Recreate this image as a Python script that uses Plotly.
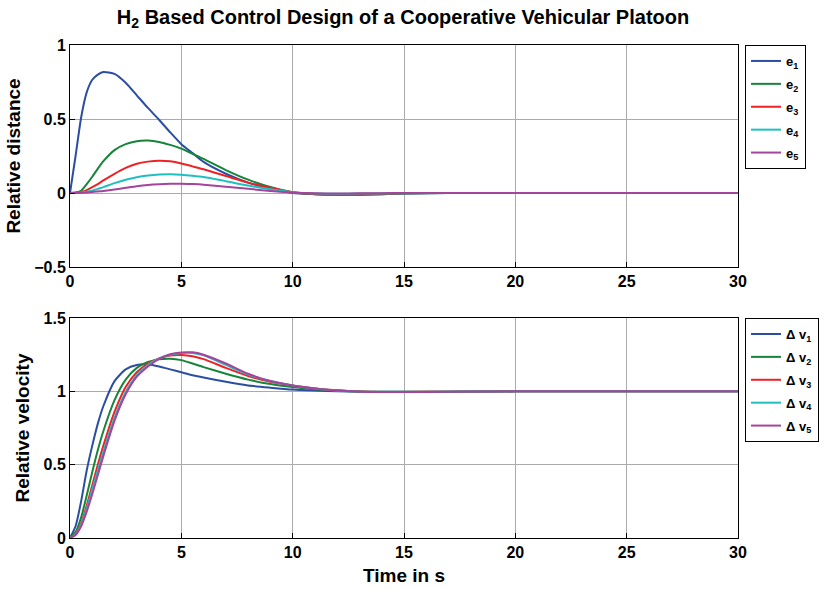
import plotly.graph_objects as go

t = [0, 0.25, 0.5, 0.75, 1, 1.25, 1.5, 2, 2.5, 3, 3.5, 4, 4.5, 5, 5.5, 6, 7, 8, 9, 10, 11, 12, 13, 14, 15, 17, 20, 25, 30]

e1 = [0, 0.25, 0.51, 0.68, 0.765, 0.80, 0.818, 0.805, 0.745, 0.66, 0.575, 0.495, 0.41, 0.33, 0.27, 0.21, 0.13, 0.07, 0.03, 0.0, -0.008, -0.012, -0.012, -0.008, -0.004, 0, 0, 0, 0]
e2 = [0, 0.004, 0.015, 0.06, 0.11, 0.165, 0.215, 0.29, 0.33, 0.35, 0.354, 0.345, 0.325, 0.30, 0.265, 0.23, 0.155, 0.09, 0.04, 0.005, -0.008, -0.012, -0.011, -0.008, -0.004, 0, 0, 0, 0]
e3 = [0, 0.001, 0.006, 0.02, 0.04, 0.06, 0.085, 0.13, 0.17, 0.198, 0.212, 0.218, 0.214, 0.2, 0.18, 0.16, 0.115, 0.07, 0.035, 0.005, -0.006, -0.008, -0.007, -0.005, -0.002, 0, 0, 0, 0]
e4 = [0, 0, 0.003, 0.008, 0.016, 0.028, 0.04, 0.067, 0.09, 0.107, 0.118, 0.125, 0.127, 0.124, 0.117, 0.108, 0.08, 0.05, 0.025, 0.005, -0.004, -0.005, -0.004, -0.003, -0.001, 0, 0, 0, 0]
e5 = [0, 0, 0.001, 0.003, 0.006, 0.01, 0.014, 0.024, 0.035, 0.046, 0.054, 0.059, 0.062, 0.063, 0.06, 0.056, 0.043, 0.028, 0.014, 0.003, -0.002, -0.003, -0.002, -0.001, 0, 0, 0, 0, 0]

v1 = [0, 0.08, 0.25, 0.46, 0.63, 0.78, 0.9, 1.07, 1.15, 1.18, 1.183, 1.17, 1.15, 1.13, 1.11, 1.095, 1.065, 1.04, 1.025, 1.012, 1.005, 1.0, 0.998, 0.997, 0.997, 0.998, 1.0, 1.0, 1.0]
v2 = [0, 0.04, 0.14, 0.29, 0.45, 0.6, 0.73, 0.94, 1.08, 1.16, 1.2, 1.218, 1.222, 1.213, 1.19, 1.165, 1.12, 1.08, 1.05, 1.03, 1.015, 1.005, 0.999, 0.997, 0.997, 0.998, 1.0, 1.0, 1.0]
v3 = [0, 0.03, 0.1, 0.22, 0.36, 0.5, 0.63, 0.86, 1.03, 1.13, 1.19, 1.225, 1.245, 1.248, 1.24, 1.22, 1.16, 1.105, 1.065, 1.04, 1.02, 1.007, 0.999, 0.996, 0.996, 0.998, 1.0, 1.0, 1.0]
v4 = [0, 0.025, 0.09, 0.2, 0.33, 0.46, 0.59, 0.82, 0.995, 1.11, 1.18, 1.225, 1.25, 1.262, 1.262, 1.245, 1.18, 1.115, 1.07, 1.04, 1.02, 1.006, 0.998, 0.995, 0.995, 0.997, 1.0, 1.0, 1.0]
v5 = [0, 0.02, 0.08, 0.18, 0.3, 0.43, 0.56, 0.8, 0.98, 1.1, 1.17, 1.222, 1.253, 1.265, 1.266, 1.25, 1.19, 1.12, 1.07, 1.04, 1.02, 1.005, 0.998, 0.995, 0.995, 0.997, 1.0, 1.0, 1.0]

e_names = ["e<sub>1</sub>", "e<sub>2</sub>", "e<sub>3</sub>", "e<sub>4</sub>", "e<sub>5</sub>"]
v_names = ["Δ v<sub>1</sub>", "Δ v<sub>2</sub>", "Δ v<sub>3</sub>", "Δ v<sub>4</sub>", "Δ v<sub>5</sub>"]
colors = ["#2b4ea2", "#17843a", "#ec2227", "#1fbfc0", "#a5449b"]

x_ticks = [0, 5, 10, 15, 20, 25, 30]
y1_ticks = [-0.5, 0, 0.5, 1]
y2_ticks = [0, 0.5, 1, 1.5]

FONT = "Liberation Sans, Arial, sans-serif"

fig = go.Figure()
for i, (ys, nm, c) in enumerate(zip([e1, e2, e3, e4, e5], e_names, colors)):
    fig.add_trace(go.Scatter(x=t, y=ys, name=nm, mode="lines", legendgroup=f"e{i}",
                             line=dict(color=c, width=2, shape="spline", smoothing=0.6),
                             xaxis="x", yaxis="y", legend="legend"))
for i, (ys, nm, c) in enumerate(zip([v1, v2, v3, v4, v5], v_names, colors)):
    fig.add_trace(go.Scatter(x=t, y=ys, name=nm, mode="lines", legendgroup=f"v{i}",
                             line=dict(color=c, width=2, shape="spline", smoothing=0.6),
                             xaxis="x2", yaxis="y2", legend="legend2"))

axis_common = dict(showgrid=True, gridcolor="#aaaaaa", gridwidth=1,
                   showline=True, linecolor="black", linewidth=1, mirror=True,
                   ticks="inside", ticklen=5, tickcolor="black", zeroline=False,
                   automargin=False,
                   tickfont=dict(family=FONT, size=16, color="black", weight="bold"))

title_font = dict(family=FONT, size=19, color="black", weight="bold")
leg_font = dict(family=FONT, size=13, color="black", weight="bold")

fig.update_layout(
    width=831, height=590,
    paper_bgcolor="white", plot_bgcolor="white",
    margin=dict(l=70, r=93, t=45, b=52),
    title=dict(text="H<sub>2</sub> Based Control Design of a Cooperative Vehicular Platoon",
               x=0.485, xanchor="center", y=0.9715, yanchor="middle",
               font=dict(family=FONT, size=20, color="black", weight="bold")),
    xaxis=dict(domain=[0, 1], range=[0, 30], tickvals=x_ticks, anchor="y", **axis_common),
    yaxis=dict(domain=[0.5497, 1], range=[-0.5, 1], tickvals=y1_ticks, anchor="x",
               title=dict(text="Relative distance", standoff=8, font=title_font),
               **axis_common),
    xaxis2=dict(domain=[0, 1], range=[0, 30], tickvals=x_ticks, anchor="y2",
                title=dict(text="Time in s", standoff=8, font=title_font),
                **axis_common),
    yaxis2=dict(domain=[0, 0.4462], range=[0, 1.5], tickvals=y2_ticks, anchor="x2",
                title=dict(text="Relative velocity", standoff=8, font=title_font),
                **axis_common),
    legend=dict(x=1.0105, y=1, xanchor="left", yanchor="top", itemwidth=30,
                tracegroupgap=3, bordercolor="black", borderwidth=1, bgcolor="white",
                font=leg_font),
    legend2=dict(x=1.0105, y=0.4462, xanchor="left", yanchor="top", itemwidth=30,
                 tracegroupgap=3, bordercolor="black", borderwidth=1, bgcolor="white",
                 font=leg_font),
)

fig.write_html("out.html", config={"displayModeBar": False},
               post_script="document.body.style.margin='0';")
